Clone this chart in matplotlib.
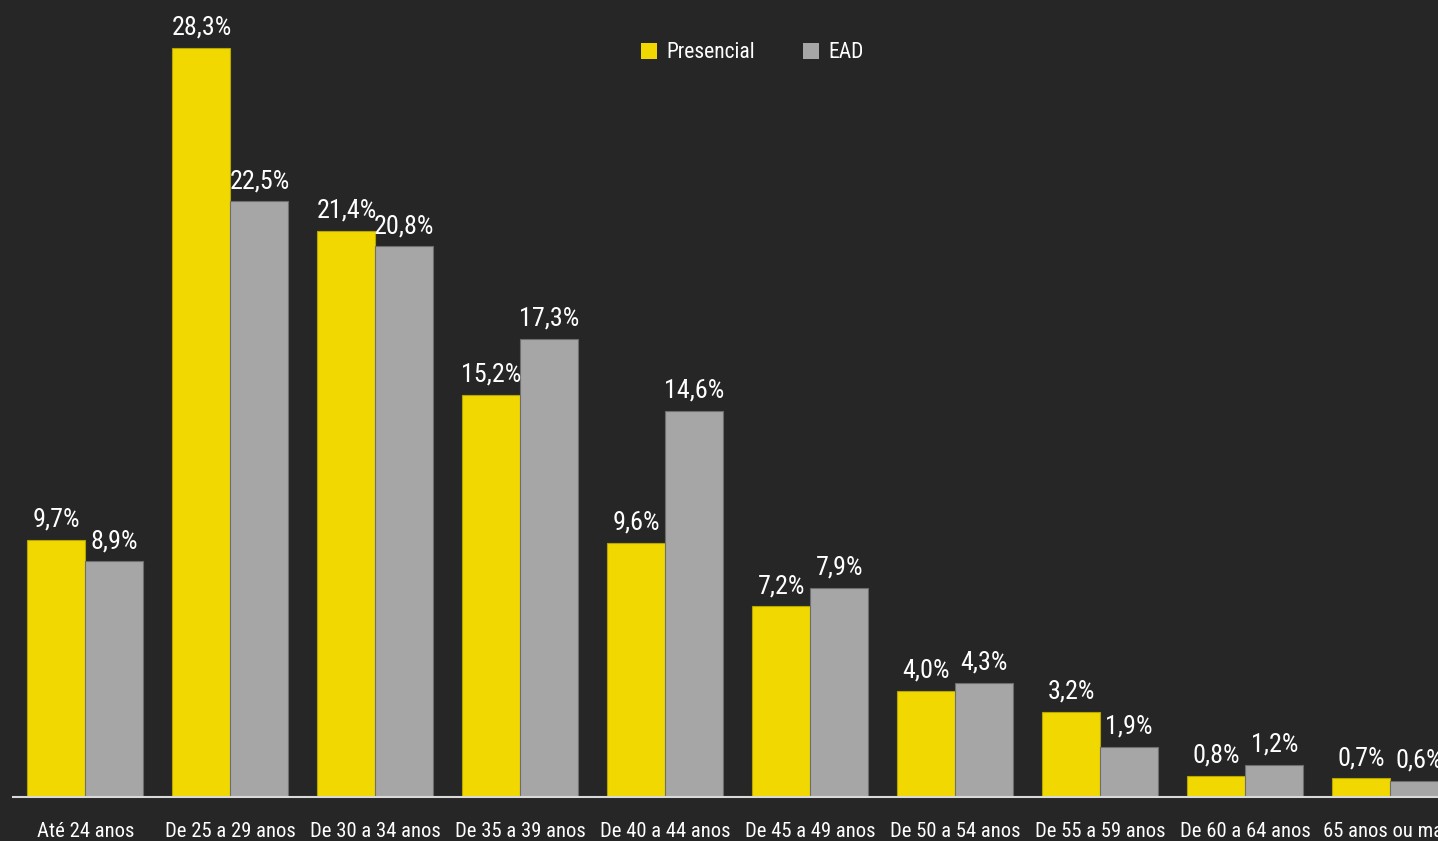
import matplotlib
matplotlib.use("Agg")
import matplotlib.pyplot as plt
from matplotlib import font_manager
from matplotlib.font_manager import FontProperties
from matplotlib.textpath import TextPath
import numpy as np

categories = ["Até 24 anos", "De 25 a 29 anos", "De 30 a 34 anos", "De 35 a 39 anos",
              "De 40 a 44 anos", "De 45 a 49 anos", "De 50 a 54 anos", "De 55 a 59 anos",
              "De 60 a 64 anos", "65 anos ou mais"]
presencial = [9.7, 28.3, 21.4, 15.2, 9.6, 7.2, 4.0, 3.2, 0.8, 0.7]
ead = [8.9, 22.5, 20.8, 17.3, 14.6, 7.9, 4.3, 1.9, 1.2, 0.6]
series_names = ["Presencial", "EAD"]

BG = "#262626"
YELLOW = "#F0D800"
GREY = "#A6A6A6"
DPI = 100


def text_width(fp, s, size=10):
    return TextPath((0, 0), s, prop=fp, size=size).get_extents().width


# narrowest regular upright face among a few sans families
families = {"DejaVu Sans", "Liberation Sans", "Liberation Sans Narrow", "Roboto",
            "Roboto Condensed", "Open Sans", "Open Sans Condensed", "Lato", "Inter",
            "Noto Sans", "DejaVu Sans Condensed"}
sample = "De 25 a 29 anos"
best, best_w = None, None
seen = set()
for f in font_manager.fontManager.ttflist:
    if f.name not in families or f.style != "normal" or f.fname in seen:
        continue
    if f.weight not in (400, 500, "normal", "regular", "medium"):
        continue
    seen.add(f.fname)
    if len(seen) > 40:
        break
    try:
        w = text_width(FontProperties(fname=f.fname), sample)
    except Exception:
        continue
    if w > 0 and (best_w is None or w < best_w):
        best, best_w = f.fname, w
base_fp = FontProperties(fname=best) if best else FontProperties(family="DejaVu Sans")


def fp_for_width(s, px):
    # font size (pt) that gives the string the wanted pixel width
    w10 = text_width(base_fp, s, 10) * DPI / 72.0
    fp = base_fp.copy()
    fp.set_size(10 * px / w10)
    return fp


tick_fp = fp_for_width("De 25 a 29 anos", 128)
val_fp = fp_for_width("28,3%", 58)
leg_fp = fp_for_width("Presencial", 86)

fig = plt.figure(figsize=(14.38, 8.41), dpi=DPI, facecolor=BG)
ax = fig.add_axes([13 / 1438, 44 / 841, 1 - 13 / 1438, 0.9442])
ax.set_facecolor(BG)

x = np.arange(len(categories))
w = 0.4
b1 = ax.bar(x - w / 2, presencial, w, color=YELLOW, edgecolor="#B8A600", linewidth=0.8, label=series_names[0])
b2 = ax.bar(x + w / 2, ead, w, color=GREY, edgecolor="#6E6E6E", linewidth=0.8, label=series_names[1])


def fmt(v):
    return f"{v:.1f}%".replace(".", ",")


for bars, vals in ((b1, presencial), (b2, ead)):
    for r, v in zip(bars, vals):
        ax.annotate(fmt(v), (r.get_x() + r.get_width() / 2, v), xytext=(0, 6),
                    textcoords="offset points", ha="center", va="bottom",
                    color="white", fontproperties=val_fp, clip_on=False)

ax.set_xlim(-0.5, 9.33)
ax.set_ylim(0, 30)
ax.set_yticks([])
ax.set_xticks(x)
ax.set_xticklabels(categories, color="white", fontproperties=tick_fp)
ax.tick_params(axis="x", length=0, pad=18)
for s in ("top", "right", "left"):
    ax.spines[s].set_visible(False)
ax.spines["bottom"].set_color("#D9D9D9")
ax.spines["bottom"].set_linewidth(1.5)

leg = ax.legend(loc="upper center", bbox_to_anchor=(0.519, 0.975), ncol=2, frameon=False,
                prop=leg_fp, labelcolor="white", handlelength=0.75, handleheight=0.75,
                handletextpad=0.45, columnspacing=2.2)
for h in leg.legend_handles:
    h.set_edgecolor("none")

fig.savefig("out.png", dpi=DPI, facecolor=BG)
